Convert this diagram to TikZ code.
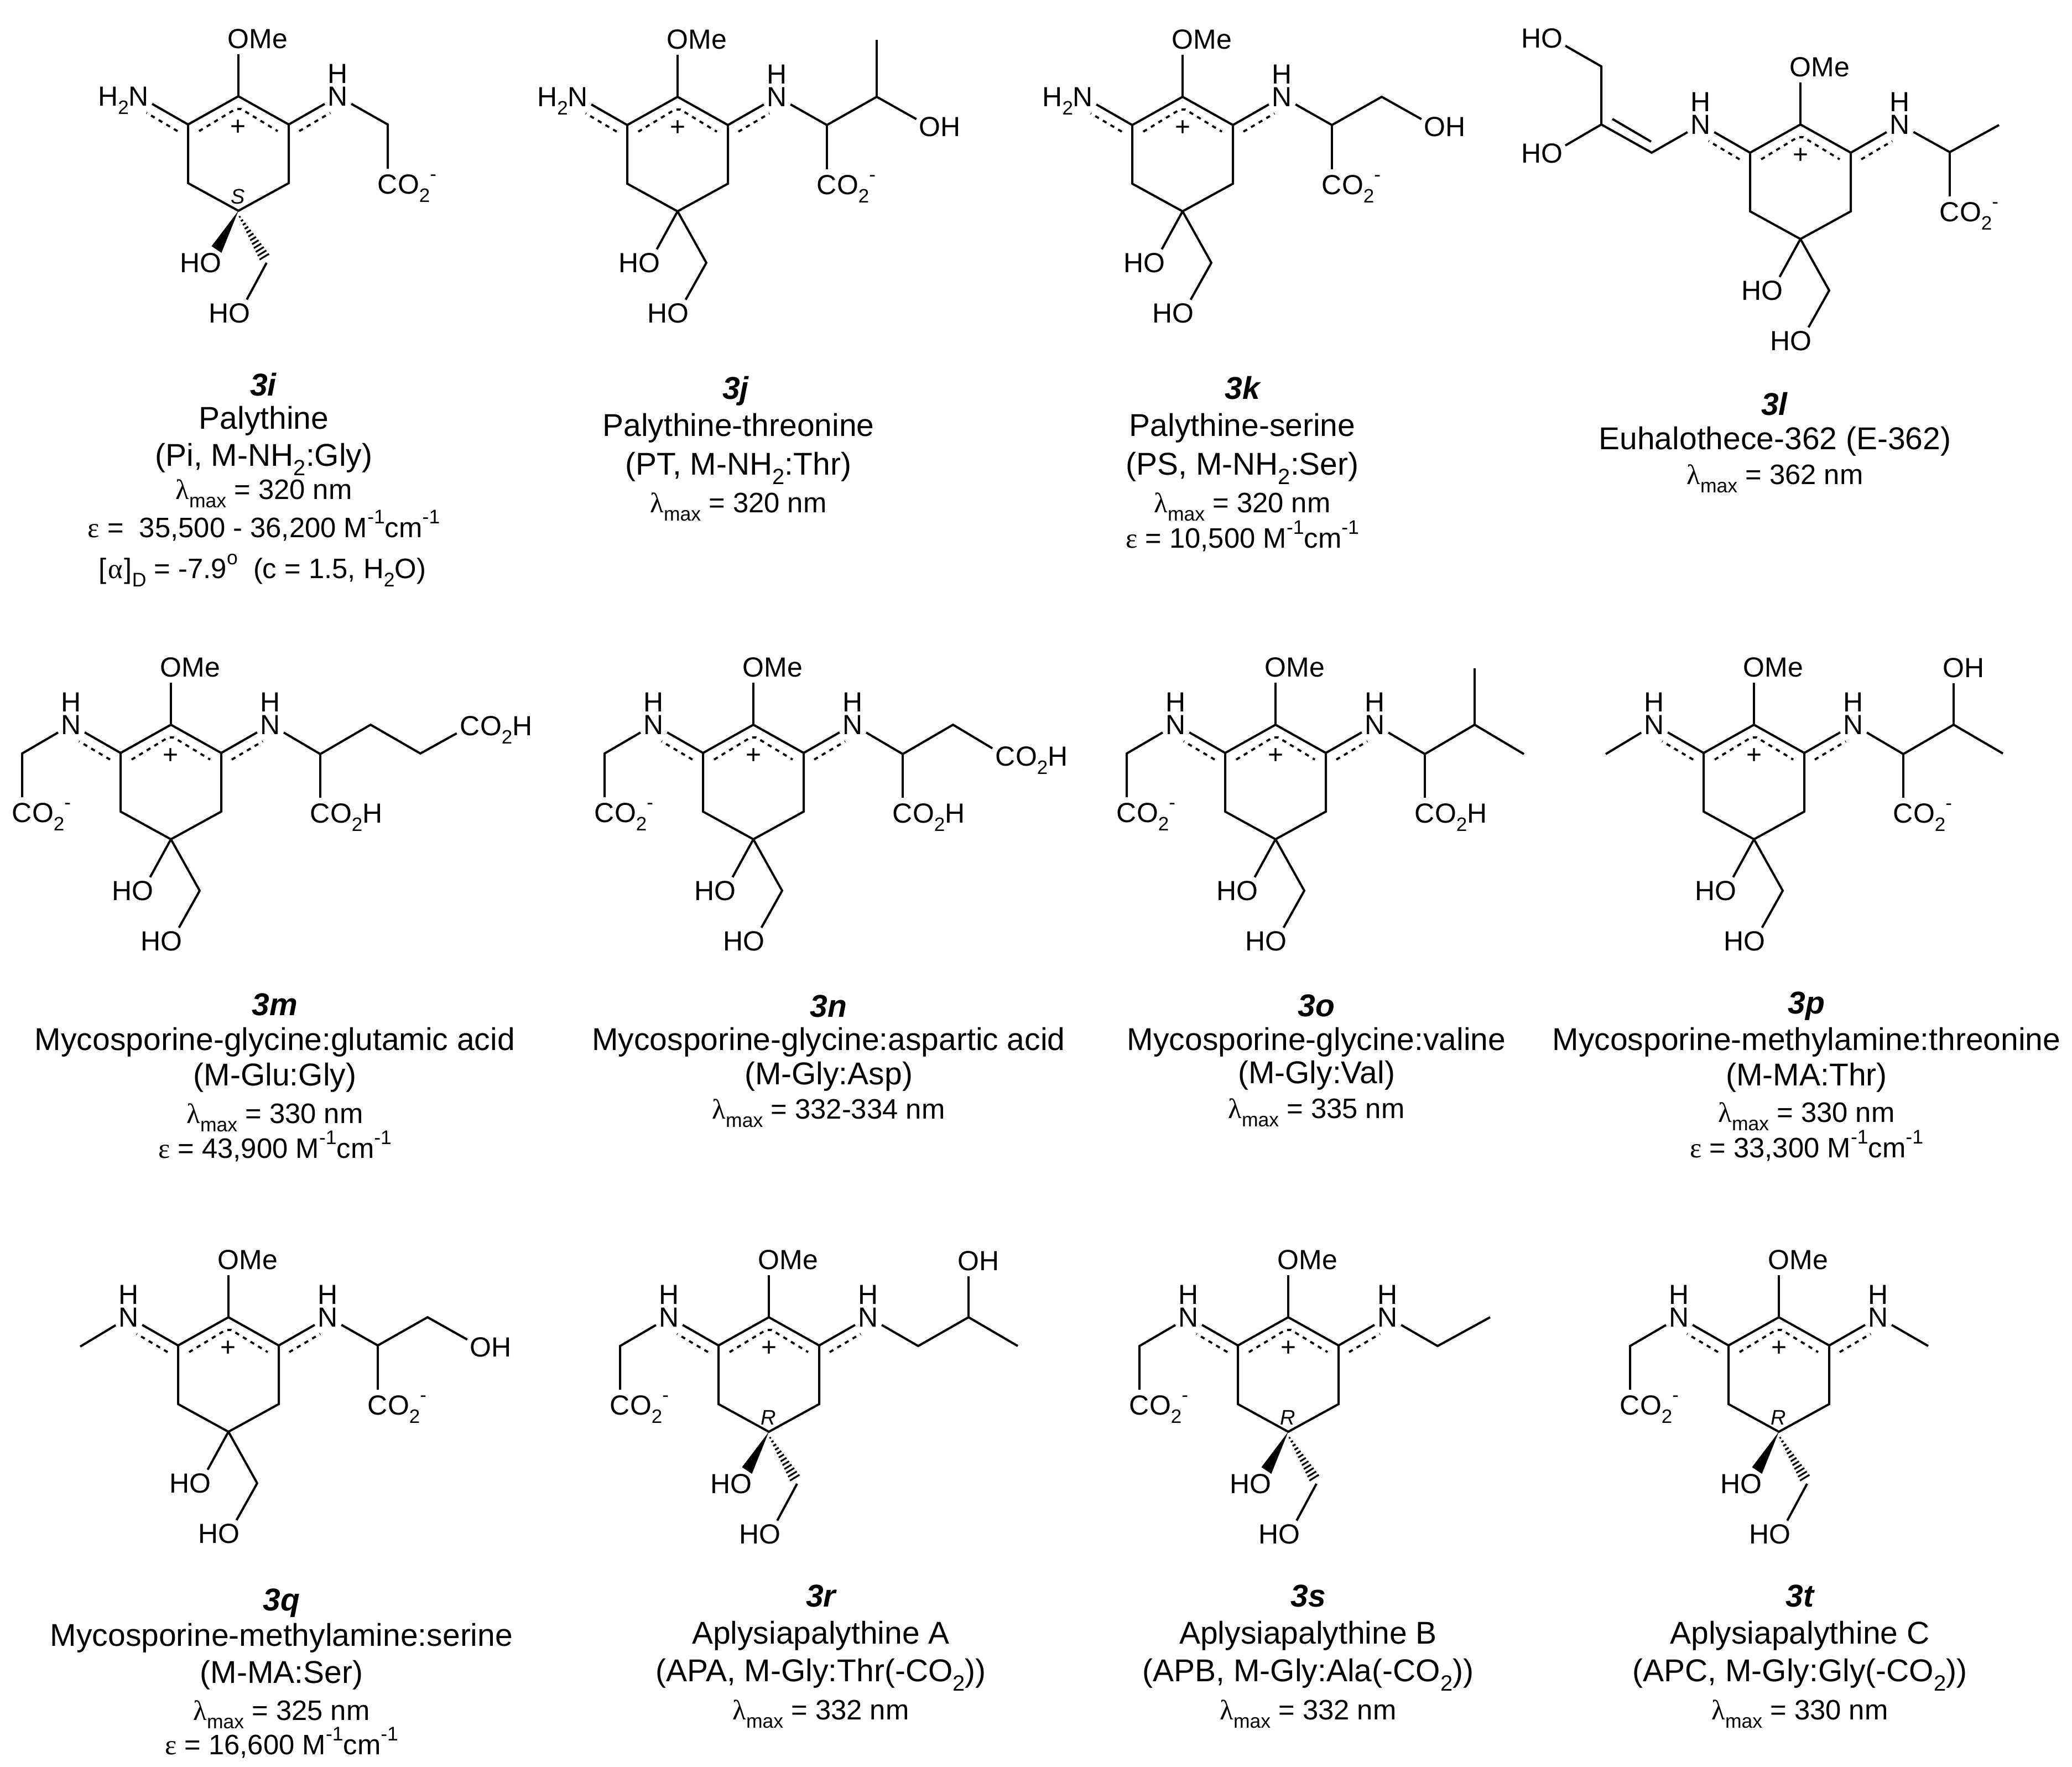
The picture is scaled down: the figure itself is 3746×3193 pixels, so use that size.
\documentclass[tikz,border=0pt]{standalone}
\usepackage{fontspec}
\setmainfont{Liberation Sans}
\newfontfamily\grkfont{Liberation Serif}
\usepackage{tikz}
\usetikzlibrary{positioning}

\newcommand{\lowtxt}[1]{\raisebox{-.3em}{\scalebox{.7}{#1}}}
\newcommand{\uptxt}[1]{\raisebox{.48em}{\scalebox{.7}{#1}}}
\newcommand{\lam}{{\grkfont λ}\lowtxt{max}}
\newcommand{\eps}{{\grkfont ε}}
\newcommand{\perM}{M\uptxt{-1}cm\uptxt{-1}}
\newcommand{\coo}{C\rlap{O\lowtxt{2}\uptxt{-}}}
\newcommand{\cooh}{C\rlap{O\lowtxt{2}H}}

\tikzset{
    bond/.style={line width=1pt, line join=miter},
    delo/.style={line width=0.95pt, dash pattern=on 1.9pt off 2.1pt},
    atom/.style={circle, inner sep=0pt, minimum size=13.5pt, text height=8.9pt, text depth=0pt,
        font=\fontsize{12.5}{14}\selectfont},
    chg/.style={inner sep=0pt, font=\fontsize{12}{13}\selectfont},
    cfg/.style={inner sep=0pt, font=\fontsize{9.5}{11}\selectfont\itshape},
    captitle/.style={inner sep=0pt, text height=10pt, text depth=0pt, font=\fontsize{14.25}{16}\selectfont\bfseries\itshape},
    capname/.style={inner sep=0pt, text height=10pt, text depth=0pt, font=\fontsize{14.25}{16}\selectfont},
    capprop/.style={inner sep=0pt, text height=9pt, text depth=0pt, font=\fontsize{12.7}{14}\selectfont}
}

% common part of every structure, #1 = text of the left nitrogen
\newcommand{\corering}[1]{
    \coordinate (c1) at (0,0);
    \coordinate (c2) at (-91,51);
    \coordinate (c3) at (-91,157);
    \coordinate (c4) at (0,207);
    \coordinate (c5) at (91,157);
    \coordinate (c6) at (91,51);
    \draw[bond] (c1) -- (c2) -- (c3) -- (c4) -- (c5) -- (c6) -- cycle;
    \node[atom] (ome) at (0,-104) {O\rlap{Me}};
    \draw[bond] (c1) -- (ome);
    \draw[delo] (-71,63) -- (-5,23) -- (5,23) -- (71,63);
    \node[chg] (plus) at (0,57) {+};
    \node[atom] (nr) at (180,0) {N};
    \node[atom] (hr) at (180,-41) {H};
    \draw[bond] (c6) -- (nr);
    \draw[delo] (110,63) -- (166,30);
    \node[atom] (nl) at (-180,0) {#1};
    \draw[bond] (c2) -- (nl);
    \draw[delo] (-110,63) -- (-166,30);
}
\newcommand{\lefth}{\node[atom] (hl) at (-180,-41) {H};}
% glycine arm on the left
\newcommand{\glyarm}{
    \lefth
    \coordinate (gl) at (-269,52);
    \node[atom] (gco) at (-269,159) {\coo};
    \draw[bond] (nl) -- (gl) -- (gco);
}
% methyl on the left
\newcommand{\mearm}{
    \lefth
    \coordinate (ml) at (-268,53);
    \draw[bond] (nl) -- (ml);
}
\newcommand{\plainoh}{
    \node[atom] (oa) at (-51,300) {\llap{H}O};
    \coordinate (ch) at (52,300);
    \node[atom] (ob) at (1,391) {\llap{H}O};
    \draw[bond] (c4) -- (oa);
    \draw[bond] (c4) -- (ch) -- (ob);
}
% #1 = R or S
\newcommand{\wedgeoh}[1]{
    \node[cfg] (cfg) at (-1,181) {#1};
    \node[atom] (oa) at (-50,301) {\llap{H}O};
    \coordinate (ch) at (51,301);
    \node[atom] (ob) at (2,392) {\llap{H}O};
    \fill (c4) -- (-30.6,283) -- (-48.5,271) -- cycle;
    \foreach \i in {0,...,11} {
        \pgfmathsetmacro{\mx}{2.5+4.02*\i}
        \pgfmathsetmacro{\my}{218+6.55*\i}
        \pgfmathsetmacro{\hw}{1.5+0.78*\i}
        \draw[line width=0.8pt] (\mx-0.852*\hw,\my+0.523*\hw) -- (\mx+0.852*\hw,\my-0.523*\hw);
    }
    \draw[bond] (ch) -- (ob);
}

\begin{document}
\begin{tikzpicture}[x=0.25pt,y=-0.25pt]
    \useasboundingbox (0,0) rectangle (3746,3193);

    % first row
    \begin{scope}[shift={(431,174)},name prefix=i-]
        \corering{\llap{H\lowtxt{2}}N}
        \wedgeoh{S}
        \coordinate (ca) at (270,51);
        \node[atom] (co) at (270,159) {\coo};
        \draw[bond] (nr) -- (ca) -- (co);
    \end{scope}
    \node[captitle] (i-t) at (476,695) {3i};
    \node[capname] (i-n) at (477,755) {Palythine};
    \node[capname] (i-a) at (477,822) {(Pi, M-NH\lowtxt{2}:Gly)};
    \node[capprop] (i-l) at (477,884) {\lam{} = 320 nm};
    \node[capprop] (i-e) at (477,953) {\eps{} =~ 35,500 - 36,200 \perM};
    \node[capprop] (i-r) at (474,1027) {[\kern.06em{\grkfont α}\kern.06em]\lowtxt{D} = -7.9\uptxt{o}~ (c = 1.5, H\lowtxt{2}O)};

    \begin{scope}[shift={(1225,175)},name prefix=j-]
        \corering{\llap{H\lowtxt{2}}N}
        \plainoh
        \coordinate (ca) at (270,51);
        \coordinate (cb) at (360,0);
        \coordinate (me) at (360,-103);
        \node[atom] (co) at (270,159) {\coo};
        \node[atom] (oh) at (456,54) {O\rlap{H}};
        \draw[bond] (nr) -- (ca) -- (cb) -- (oh);
        \draw[bond] (ca) -- (co);
        \draw[bond] (cb) -- (me);
    \end{scope}
    \node[captitle] (j-t) at (1330,701) {3j};
    \node[capname] (j-n) at (1335,768) {Palythine-threonine};
    \node[capname] (j-a) at (1335,838) {(PT, M-NH\lowtxt{2}:Thr)};
    \node[capprop] (j-l) at (1335,908) {\lam{} = 320 nm};

    \begin{scope}[shift={(2138,175)},name prefix=k-]
        \corering{\llap{H\lowtxt{2}}N}
        \plainoh
        \coordinate (ca) at (270,51);
        \coordinate (cb) at (360,0);
        \node[atom] (co) at (270,159) {\coo};
        \node[atom] (oh) at (456,54) {O\rlap{H}};
        \draw[bond] (nr) -- (ca) -- (cb) -- (oh);
        \draw[bond] (ca) -- (co);
    \end{scope}
    \node[captitle] (k-t) at (2246,701) {3k};
    \node[capname] (k-n) at (2246,768) {Palythine-serine};
    \node[capname] (k-a) at (2246,838) {(PS, M-NH\lowtxt{2}:Ser)};
    \node[capprop] (k-l) at (2246,908) {\lam{} = 320 nm};
    \node[capprop] (k-e) at (2246,972) {\eps{} = 10,500 \perM};

    \begin{scope}[shift={(3255,225)},name prefix=l-]
        \corering{N}
        \lefth
        \plainoh
        \coordinate (e1) at (-269,51);
        \coordinate (e2) at (-360,0);
        \coordinate (e3) at (-360,-105);
        \coordinate (d1) at (-270,31);
        \coordinate (d2) at (-340,-10);
        \node[atom] (oc) at (-449,-156) {\llap{H}O};
        \node[atom] (od) at (-449,52) {\llap{H}O};
        \draw[bond] (nl) -- (e1) -- (e2) -- (e3) -- (oc);
        \draw[bond] (d1) -- (d2);
        \draw[bond] (e2) -- (od);
        \coordinate (ca) at (270,50);
        \coordinate (me) at (359,1);
        \node[atom] (co) at (270,158) {\coo};
        \draw[bond] (nr) -- (ca) -- (me);
        \draw[bond] (ca) -- (co);
    \end{scope}
    \node[captitle] (l-t) at (3208,730) {3l};
    \node[capname] (l-n) at (3209,792) {Euhalothece-362 (E-362)};
    \node[capprop] (l-l) at (3209,857) {\lam{} = 362 nm};

    % second row
    \begin{scope}[shift={(309,1310)},name prefix=m-]
        \corering{N}
        \glyarm
        \plainoh
        \coordinate (ca) at (270,53);
        \coordinate (cb) at (361,0);
        \coordinate (cc) at (451,52);
        \node[atom] (co) at (270,160) {\cooh};
        \node[atom] (cd) at (541,2) {\cooh};
        \draw[bond] (nr) -- (ca) -- (cb) -- (cc) -- (cd);
        \draw[bond] (ca) -- (co);
    \end{scope}
    \node[captitle] (m-t) at (497,1815) {3m};
    \node[capname] (m-n) at (497,1878) {Mycosporine-glycine:glutamic acid};
    \node[capname] (m-a) at (497,1942) {(M-Glu:Gly)};
    \node[capprop] (m-l) at (497,2012) {\lam{} = 330 nm};
    \node[capprop] (m-e) at (497,2075) {\eps{} = 43,900 \perM};

    \begin{scope}[shift={(1362,1310)},name prefix=n-]
        \corering{N}
        \glyarm
        \plainoh
        \coordinate (ca) at (270,53);
        \coordinate (cb) at (361,0);
        \node[atom] (co) at (270,160) {\cooh};
        \node[atom] (cd) at (456,57) {\cooh};
        \draw[bond] (nr) -- (ca) -- (cb) -- (cd);
        \draw[bond] (ca) -- (co);
    \end{scope}
    \node[captitle] (n-t) at (1498,1818) {3n};
    \node[capname] (n-n) at (1498,1878) {Mycosporine-glycine:aspartic acid};
    \node[capname] (n-a) at (1498,1940) {(M-Gly:Asp)};
    \node[capprop] (n-l) at (1498,2004) {\lam{} = 332-334 nm};

    \begin{scope}[shift={(2306,1310)},name prefix=o-]
        \corering{N}
        \glyarm
        \plainoh
        \coordinate (ca) at (270,53);
        \coordinate (cb) at (360,0);
        \coordinate (mea) at (360,-102);
        \coordinate (meb) at (449,53);
        \node[atom] (co) at (270,160) {\cooh};
        \draw[bond] (nr) -- (ca) -- (cb) -- (meb);
        \draw[bond] (ca) -- (co);
        \draw[bond] (cb) -- (mea);
    \end{scope}
    \node[captitle] (o-t) at (2380,1817) {3o};
    \node[capname] (o-n) at (2380,1878) {Mycosporine-glycine:valine};
    \node[capname] (o-a) at (2380,1938) {(M-Gly:Val)};
    \node[capprop] (o-l) at (2380,2003) {\lam{} = 335 nm};

    \begin{scope}[shift={(3171,1310)},name prefix=p-]
        \corering{N}
        \mearm
        \plainoh
        \coordinate (ca) at (270,53);
        \coordinate (cb) at (361,0);
        \coordinate (me) at (450,52);
        \node[atom] (co) at (270,160) {\coo};
        \node[atom] (oh) at (361,-103) {O\rlap{H}};
        \draw[bond] (nr) -- (ca) -- (cb) -- (me);
        \draw[bond] (ca) -- (co);
        \draw[bond] (cb) -- (oh);
    \end{scope}
    \node[captitle] (p-t) at (3266,1812) {3p};
    \node[capname] (p-n) at (3266,1878) {Mycosporine-methylamine:threonine};
    \node[capname] (p-a) at (3266,1942) {(M-MA:Thr)};
    \node[capprop] (p-l) at (3266,2010) {\lam{} = 330 nm};
    \node[capprop] (p-e) at (3266,2074) {\eps{} = 33,300 \perM};

    % third row
    \begin{scope}[shift={(413,2381)},name prefix=q-]
        \corering{N}
        \mearm
        \plainoh
        \coordinate (ca) at (270,51);
        \coordinate (cb) at (360,0);
        \node[atom] (co) at (270,159) {\coo};
        \node[atom] (oh) at (456,54) {O\rlap{H}};
        \draw[bond] (nr) -- (ca) -- (cb) -- (oh);
        \draw[bond] (ca) -- (co);
    \end{scope}
    \node[captitle] (q-t) at (509,2891) {3q};
    \node[capname] (q-n) at (509,2955) {Mycosporine-methylamine:serine};
    \node[capname] (q-a) at (509,3022) {(M-MA:Ser)};
    \node[capprop] (q-l) at (509,3091) {\lam{} = 325 nm};
    \node[capprop] (q-e) at (509,3153) {\eps{} = 16,600 \perM};

    \begin{scope}[shift={(1390,2381)},name prefix=r-]
        \corering{N}
        \glyarm
        \wedgeoh{R}
        \coordinate (ca) at (270,52);
        \coordinate (cb) at (361,0);
        \coordinate (me) at (450,52);
        \node[atom] (oh) at (361,-102) {O\rlap{H}};
        \draw[bond] (nr) -- (ca) -- (cb) -- (me);
        \draw[bond] (cb) -- (oh);
    \end{scope}
    \node[captitle] (r-t) at (1484,2884) {3r};
    \node[capname] (r-n) at (1484,2951) {Aplysiapalythine A};
    \node[capname] (r-a) at (1484,3019) {(APA, M-Gly:Thr(-CO\lowtxt{2}))};
    \node[capprop] (r-l) at (1484,3090) {\lam{} = 332 nm};

    \begin{scope}[shift={(2329,2381)},name prefix=s-]
        \corering{N}
        \glyarm
        \wedgeoh{R}
        \coordinate (ca) at (270,52);
        \coordinate (me) at (365,0);
        \draw[bond] (nr) -- (ca) -- (me);
    \end{scope}
    \node[captitle] (s-t) at (2365,2884) {3s};
    \node[capname] (s-n) at (2365,2951) {Aplysiapalythine B};
    \node[capname] (s-a) at (2365,3019) {(APB, M-Gly:Ala(-CO\lowtxt{2}))};
    \node[capprop] (s-l) at (2365,3090) {\lam{} = 332 nm};

    \begin{scope}[shift={(3216,2381)},name prefix=t-]
        \corering{N}
        \glyarm
        \wedgeoh{R}
        \coordinate (me) at (270,52);
        \draw[bond] (nr) -- (me);
    \end{scope}
    \node[captitle] (t-t) at (3254,2884) {3t};
    \node[capname] (t-n) at (3254,2951) {Aplysiapalythine C};
    \node[capname] (t-a) at (3254,3019) {(APC, M-Gly:Gly(-CO\lowtxt{2}))};
    \node[capprop] (t-l) at (3254,3090) {\lam{} = 330 nm};
\end{tikzpicture}
\end{document}
